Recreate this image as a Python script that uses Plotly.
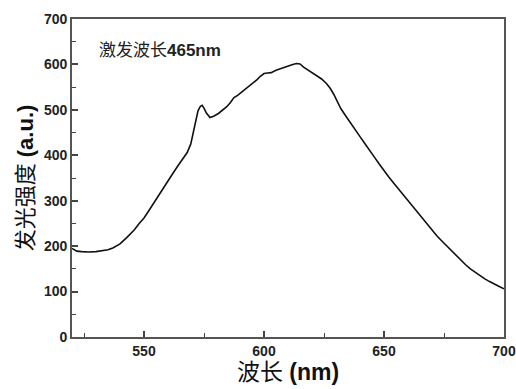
import plotly.graph_objects as go

wavelength = [520, 521, 522, 524, 527, 530, 533, 535, 537, 540, 543, 546, 548, 550,
              552, 554, 556, 558, 560, 562, 564, 566, 568, 569.5, 570.5, 571.5, 572.5,
              573.5, 574.2, 575, 576, 577.5, 579, 581, 583, 584.5, 586, 587.5, 589,
              590.5, 592, 594, 595.5, 597, 598.5, 600, 601.5, 603, 605, 607, 609, 610.5,
              612, 613.5, 615, 616.5, 618, 620, 622, 624, 626, 627.5, 629, 630.5, 632,
              634, 636, 638, 640, 642, 644, 646, 648, 650, 652, 654, 656, 658, 660, 662,
              664, 666, 668, 670, 672, 674, 676, 678, 680, 682, 684, 686, 688, 690, 692,
              694, 696, 698, 700]
intensity = [195, 192, 189, 188, 187, 188, 190, 192, 196, 205, 220, 236, 250, 262,
             278, 295, 312, 328, 344, 360, 376, 392, 406, 425, 450, 478, 498,
             508, 510, 504, 493, 483, 486, 492, 500, 507, 516, 527, 532,
             538, 545, 552, 560, 566, 574, 580, 581, 582, 587, 591, 595, 598,
             600, 602, 601, 594, 589, 583, 576, 568, 558, 548, 535, 518, 503,
             487, 471, 456, 441, 426, 412, 396, 381, 366, 352, 339, 326, 313, 300, 287,
             274, 261, 247, 235, 223, 212, 201, 190, 179, 169, 159, 150, 142, 135, 128,
             122, 116, 111, 106]

x_ticks = [550, 600, 650, 700]
y_ticks = [0, 100, 200, 300, 400, 500, 600, 700]

FONT = "Liberation Sans, Arial, Noto Sans CJK SC"

fig = go.Figure()
fig.add_trace(go.Scatter(x=wavelength, y=intensity, mode="lines",
                         line=dict(color="#111111", width=1.6),
                         showlegend=False, hoverinfo="skip"))

axis_common = dict(showline=True, linecolor="#555555", linewidth=1.8, mirror=True,
                   ticks="inside", ticklen=6, tickwidth=1.5, tickcolor="#444444",
                   showgrid=False, zeroline=False, ticklabeloverflow="allow",
                   automargin=False,
                   tickfont=dict(family=FONT, size=14, color="#222222", weight="bold"))

fig.update_xaxes(range=[520, 700], tickvals=x_ticks, ticktext=[str(v) for v in x_ticks],
                 minor=dict(tickvals=[525, 575, 625, 675], ticks="inside", ticklen=4,
                            tickwidth=1.2, tickcolor="#444444"),
                 title=dict(text="波长 <b>(nm)</b>", font=dict(family=FONT, size=23, color="#111111"),
                            standoff=4),
                 **axis_common)
fig.update_yaxes(range=[0, 700], tickvals=y_ticks, ticktext=[str(v) for v in y_ticks],
                 minor=dict(tickvals=[50, 150, 250, 350, 450, 550, 650], ticks="inside",
                            ticklen=4, tickwidth=1.2, tickcolor="#444444"),
                 title=dict(text="发光强度 <b>(a.u.)</b>", font=dict(family=FONT, size=22, color="#111111"),
                            standoff=4),
                 **axis_common)

fig.add_annotation(x=0.058, y=0.9, xref="paper", yref="paper", xanchor="left", yanchor="middle",
                   text="激发波长<b>465nm</b>", showarrow=False,
                   font=dict(family=FONT, size=17, color="#222222"))

fig.update_layout(width=516, height=389, margin=dict(l=72, r=12, t=19, b=52),
                  plot_bgcolor="white", paper_bgcolor="white")

fig.write_html("out.html", config={"displayModeBar": False},
               post_script="document.body.style.margin='0';")
